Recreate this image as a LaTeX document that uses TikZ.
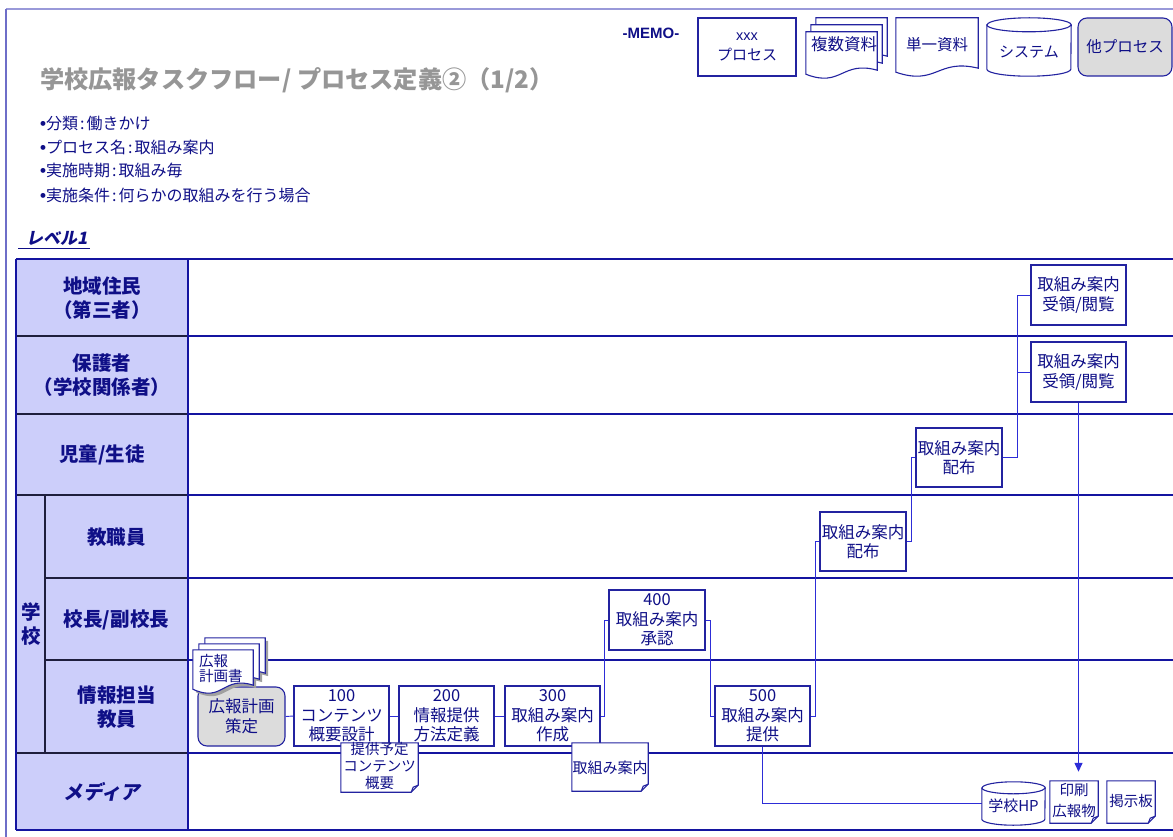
\documentclass[tikz,border=0pt]{standalone}
\usepackage{fontspec}
\setmainfont{Noto Sans CJK JP}
\newfontfamily\jpsl{Noto Sans CJK JP}[FakeSlant=0.2]
\newfontfamily\arialike{Liberation Sans}
\usetikzlibrary{calc,arrows.meta}
\definecolor{navy}{RGB}{15,15,135}
\definecolor{laneblue}{RGB}{20,20,160}
\definecolor{boxblue}{RGB}{35,35,160}
\definecolor{connblue}{RGB}{45,45,215}
\definecolor{hdrfill}{RGB}{204,206,250}
\definecolor{hdrline}{RGB}{30,30,60}
\definecolor{gboxfill}{RGB}{220,220,220}
\definecolor{titlegray}{RGB}{150,150,150}
\definecolor{framecol}{RGB}{110,110,200}
\definecolor{shadowgray}{RGB}{160,160,160}

\newcommand\bul{{\arialike\bfseries\fontsize{17}{18}\selectfont •}}
% document (wavy bottom) outline relative to a holder node, offset (#3,#4)
\newcommand\docdraw[4]{%
  \draw[#1] ($(#2.north west)+(#3,#4)$) -- ($(#2.north east)+(#3,#4)$)
    -- ($(#2.south east)+(#3,#4-8)$)
    .. controls ($(#2.south)+(#3,#4-18)$) and ($(#2.south)+(#3,#4+10)$) ..
    ($(#2.south west)+(#3,#4-4)$) -- cycle;}
% note with folded bottom-right corner
\newcommand\notedraw[1]{%
  \draw[shapeline,fill=white] (#1.north west) -- (#1.north east)
    -- ($(#1.south east)+(0,-7)$) -- ($(#1.south east)+(-7,0)$) -- (#1.south west) -- cycle;
  \draw[shapeline] ($(#1.south east)+(-7,0)$) -- ($(#1.south east)+(-5,-5)$) -- ($(#1.south east)+(0,-7)$);}
% cylinder: name, half width, ry
\newcommand\cyldraw[3]{%
  \draw[shapeline,fill=white] ($(#1.north west)+(0,#3)$) -- ($(#1.south west)+(0,-#3)$)
    arc[start angle=180,end angle=360,x radius=#2pt,y radius=#3pt]
    -- ($(#1.north east)+(0,#3)$)
    arc[start angle=0,end angle=180,x radius=#2pt,y radius=#3pt] -- cycle;
  \draw[shapeline] ($(#1.north west)+(0,#3)$) arc[start angle=180,end angle=360,x radius=#2pt,y radius=#3pt];}

\tikzset{
  shapeline/.style={draw=boxblue,line width=1.1pt},
  proc/.style={draw=boxblue,line width=1.1pt,fill=white,text=navy,align=center,inner sep=0pt,font=\fontsize{16.5}{19.5}\selectfont},
  gproc/.style={proc,fill=gboxfill,rounded corners=9pt},
  holder/.style={inner sep=0pt,draw=none},
  txt/.style={text=navy,align=center,inner sep=0pt,font=\fontsize{15}{17}\selectfont},
  hdr/.style={text=navy,align=center,inner sep=0pt,font=\bfseries\fontsize{19.5}{24}\selectfont},
  lane/.style={draw=laneblue,line width=1.6pt},
  hsep/.style={draw=hdrline,line width=1.1pt},
  conn/.style={draw=connblue,line width=0.9pt},
  info/.style={text=navy,anchor=west,inner sep=0pt,font=\fontsize{16}{18}\selectfont},
}

\begin{document}
\begin{tikzpicture}[x=1pt,y=-1pt]
\useasboundingbox (0,0) rectangle (1173,837);
% frame
\draw[draw=framecol!70,line width=1.2pt] (6,9) -- (1176,9);
\draw[draw=framecol,line width=1.5pt] (6,9) -- (6,840);

% title and info
\node[anchor=west,text=titlegray,inner sep=0pt,font=\bfseries\fontsize{24.2}{28}\selectfont] (title) at (40,80) {学校広報タスクフロー/ プロセス定義②（1/2）};
\node[info] (b1) at (40,123) {\bul 分類\kern2pt:\kern2pt 働きかけ};
\node[info] (b2) at (40,147) {\bul プロセス名\kern2pt:\kern2pt 取組み案内};
\node[info] (b3) at (40,170) {\bul 実施時期\kern2pt:\kern2pt 取組み毎};
\node[info] (b4) at (40,195) {\bul 実施条件\kern2pt:\kern2pt 何らかの取組みを行う場合};
\node[anchor=west,text=navy,inner sep=0pt,font=\jpsl\bfseries\fontsize{17}{20}\selectfont] (lvl) at (26,238) {レベル1};
\draw[navy,line width=1pt] ($(lvl.south west)+(-8,3)$) -- ($(lvl.south east)+(2,3)$);

% memo legend
\node[text=navy,inner sep=0pt,font=\arialike\bfseries\fontsize{15}{17}\selectfont] (memo) at (651,33) {-MEMO-};
\node[proc,minimum width=98pt,minimum height=58pt] (mxxx) at (747,47) {{\arialike\fontsize{14.5}{15}\selectfont xxx}\\[1pt]{\fontsize{15}{17}\selectfont プロセス}};
\node[holder,minimum width=71pt,minimum height=46pt] (mmulti) at (841.5,55) {};
\docdraw{shapeline,fill=white}{mmulti}{10}{-14}
\docdraw{shapeline,fill=white}{mmulti}{5}{-7}
\docdraw{shapeline,fill=white}{mmulti}{0}{0}
\node[txt,font=\fontsize{16.5}{18}\selectfont] (mmulti-t) at (844,44) {複数資料};
\node[holder,minimum width=82pt,minimum height=58pt] (msingle) at (937,47) {};
\docdraw{shapeline,fill=white}{msingle}{0}{0}
\node[txt,font=\fontsize{15.5}{18}\selectfont] (msingle-t) at (937,45) {単一資料};
\node[holder,minimum width=84pt,minimum height=58pt] (msys) at (1029,47) {};
\cyldraw{msys}{42}{7}
\node[txt] (msys-t) at (1029,52) {システム};
\node[gproc,minimum width=94pt,minimum height=58pt,font=\fontsize{15.5}{18}\selectfont] (mother) at (1125,47) {他プロセス};

% swimlane table
\fill[hdrfill] (16,259) rectangle (188,830);
\foreach \yy in {259,336,414,495,578,660,753,830} \draw[lane] (188,\yy) -- (1176,\yy);
\draw[lane] (16,259) -- (188,259);
\draw[lane] (16,830) -- (188,830);
\draw[lane] (16,259) -- (16,830);
\draw[lane] (188,259) -- (188,830);
\draw[hsep] (17,336) -- (187,336) (17,414) -- (187,414) (17,495) -- (187,495)
  (45,578) -- (187,578) (45,660) -- (187,660) (17,753) -- (187,753) (45,495) -- (45,753);

\node[hdr] (h1) at (102,298) {地域住民\\（第三者）};
\node[hdr] (h2) at (102,375.5) {保護者\\（学校関係者）};
\node[hdr] (h3) at (102,455) {児童/生徒};
\node[hdr] (hs) at (31,624) {学\\校};
\node[hdr] (h4) at (116.5,537) {教職員};
\node[hdr] (h5) at (116.5,619.5) {校長/副校長};
\node[hdr] (h6) at (116.5,707) {情報担当\\教員};
\node[hdr,font=\jpsl\bfseries\fontsize{19.5}{24}\selectfont] (h7) at (102,792) {メディア};

% process nodes
\node[proc,minimum width=95pt,minimum height=60pt] (r1) at (1078.5,295) {取組み案内\\受領/閲覧};
\node[proc,minimum width=95pt,minimum height=60pt] (r2) at (1078.5,372) {取組み案内\\受領/閲覧};
\node[proc,minimum width=86pt,minimum height=59pt] (d1) at (959,457.5) {取組み案内\\配布};
\node[proc,minimum width=86pt,minimum height=59pt] (d2) at (863,541.5) {取組み案内\\配布};
\node[proc,minimum width=96pt,minimum height=60pt] (p400) at (657,620) {400\\取組み案内\\承認};
\node[gproc,minimum width=87pt,minimum height=59pt] (plan) at (241.5,716.5) {広報計画\\策定};
\node[proc,minimum width=95pt,minimum height=60pt] (p100) at (341.5,716) {100\\コンテンツ\\概要設計};
\node[proc,minimum width=95pt,minimum height=60pt] (p200) at (446.5,716) {200\\情報提供\\方法定義};
\node[proc,minimum width=95pt,minimum height=60pt] (p300) at (552.5,716) {300\\取組み案内\\作成};
\node[proc,minimum width=95pt,minimum height=60pt] (p500) at (762.5,716) {500\\取組み案内\\提供};

% connectors
\draw[conn] (plan.east) -- (p100.west);
\draw[conn] (p100.east) -- (p200.west);
\draw[conn] (p200.east) -- (p300.west);
\draw[conn] (p300.east) -- ++(4,0) |- (p400.west);
\draw[conn] (p400.east) -- ++(5,0) |- (p500.west);
\draw[conn] (p500.east) -- ++(5,0) |- (d2.west);
\draw[conn] (d2.east) -- ++(5,0) |- (d1.west);
\draw[conn] (d1.east) -- ++(15,0) coordinate (jx) |- (r1.west);
\draw[conn] (jx) |- (r2.west);

% media objects
\node[holder,minimum width=63pt,minimum height=43pt] (hp) at (1013.5,803.5) {};
\node[holder,minimum width=48pt,minimum height=42pt] (nprint) at (1074,802) {};
\node[holder,minimum width=48pt,minimum height=42pt] (nboard) at (1131,802) {};
\draw[conn] (p500.south) |- (hp.west);
\draw[conn,line width=1.3pt,-{Triangle[length=9pt,width=8pt]},shorten >=9pt] (r2.south) -- (r2.south |- nprint.north);
\cyldraw{hp}{31.5}{6}
\node[txt] (hp-t) at (1013.5,806) {学校HP};
\notedraw{nprint}
\node[txt,font=\fontsize{14.5}{21}\selectfont] (nprint-t) at (1074,801) {印刷\\広報物};
\notedraw{nboard}
\node[txt,font=\fontsize{14.5}{17}\selectfont] (nboard-t) at (1131,801) {掲示板};

% documents
\node[holder,minimum width=60pt,minimum height=43pt] (pdoc) at (223,671.5) {};
\docdraw{fill=shadowgray,draw=none}{pdoc}{15}{-9}
\docdraw{fill=shadowgray,draw=none}{pdoc}{9}{-3}
\docdraw{fill=shadowgray,draw=none}{pdoc}{3}{3}
\docdraw{shapeline,fill=white}{pdoc}{12}{-12}
\docdraw{shapeline,fill=white}{pdoc}{6}{-6}
\docdraw{shapeline,fill=white}{pdoc}{0}{0}
\node[txt,align=left,anchor=north west,font=\fontsize{14.5}{15.5}\selectfont] (pdoc-t) at (199,654) {広報\\計画書};

\node[holder,minimum width=77pt,minimum height=49pt] (ncont) at (379.5,767.5) {};
\notedraw{ncont}
\node[txt,font=\fontsize{14.5}{17}\selectfont] (ncont-t) at (379.5,766) {提供予定\\コンテンツ\\概要};
\node[holder,minimum width=76pt,minimum height=48pt] (ninfo) at (610,767) {};
\notedraw{ninfo}
\node[txt] (ninfo-t) at (610,768) {取組み案内};
\end{tikzpicture}
\end{document}
